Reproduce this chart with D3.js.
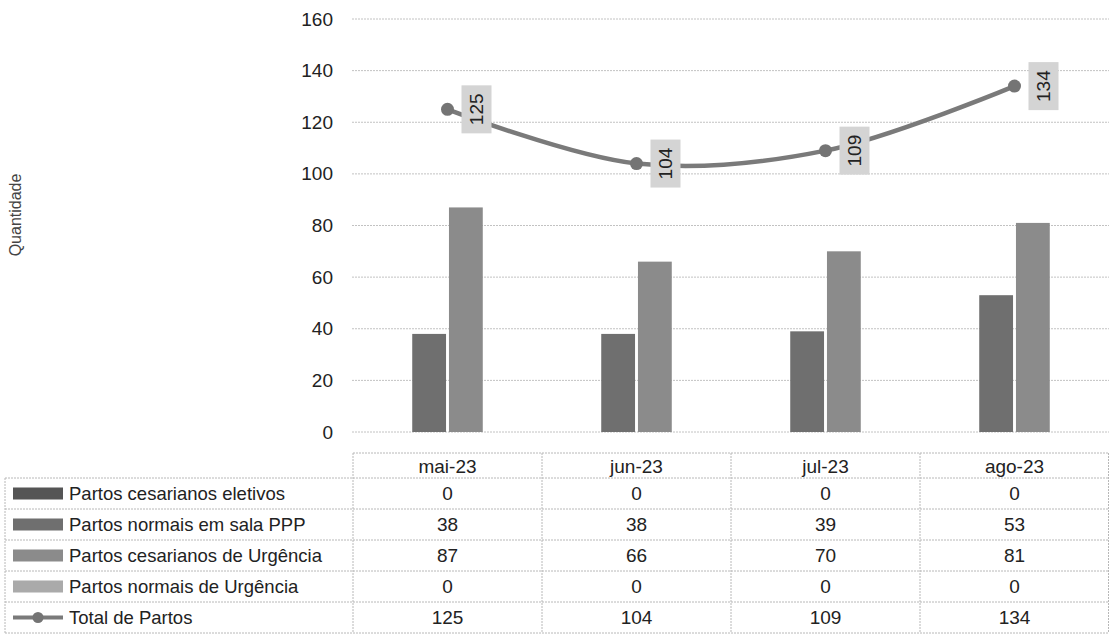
<!DOCTYPE html>
<html><head><meta charset="utf-8">
<script src="https://cdn.jsdelivr.net/npm/d3@7"></script>
<style>
html,body{margin:0;padding:0;background:#fff;}
svg{display:block;font-family:"Liberation Sans",Arial,sans-serif;}
</style></head>
<body>
<svg id="chart" width="1109" height="634"></svg>
<script>
const categories = ["mai-23","jun-23","jul-23","ago-23"];
const seriesNames = ["Partos cesarianos eletivos","Partos normais em sala PPP","Partos cesarianos de Urgência","Partos normais de Urgência"];
const cesElet = [0,0,0,0];
const normPPP = [38,38,39,53];
const cesUrg = [87,66,70,81];
const normUrg = [0,0,0,0];
const totals = [125,104,109,134];
const lineName = "Total de Partos";
const yTicks = [0,20,40,60,80,100,120,140,160];
const yTitle = "Quantidade";

const barSeries = [cesElet, normPPP, cesUrg, normUrg];
const colors = ["#555555","#6f6f6f","#8b8b8b","#aaaaaa"];
const lineColor = "#7a7a7a";

const svg = d3.select("#chart");
const x = d3.scaleBand().domain(categories).range([353,1109]).padding(0);
const y = d3.scaleLinear().domain([0,160]).range([432,19]);
const gw = 144;
const xs = d3.scaleBand().domain(d3.range(4)).range([(x.bandwidth()-gw)/2,(x.bandwidth()+gw)/2]).paddingInner(0.08);

// gridlines
svg.append("g").selectAll("line").data(yTicks).join("line")
  .attr("x1",352).attr("x2",1109)
  .attr("y1",d=>y(d)).attr("y2",d=>y(d))
  .attr("stroke","#c2c2c2").attr("stroke-width",1).attr("stroke-dasharray","2,1");

// y axis
const yAxis = d3.axisLeft(y).tickValues(yTicks).tickSize(0).tickPadding(0);
const ya = svg.append("g").attr("transform","translate(333,0)").call(yAxis);
ya.select(".domain").remove();
ya.selectAll("text").attr("font-size",19).attr("fill","#222").attr("font-family","Liberation Sans, Arial, sans-serif");

// y title
svg.append("text").attr("transform","translate(21,215) rotate(-90)")
  .attr("text-anchor","middle").attr("font-size",16).attr("fill","#444").text(yTitle);

// bars
barSeries.forEach((vals,si)=>{
  svg.append("g").selectAll("rect").data(vals).join("rect")
    .attr("x",(d,i)=>x(categories[i])+xs(si))
    .attr("width",xs.bandwidth())
    .attr("y",d=>y(d)).attr("height",d=>y(0)-y(d))
    .attr("fill",colors[si]);
});

// line
const pts = totals.map((v,i)=>[x(categories[i])+x.bandwidth()/2, y(v)]);
svg.append("path").attr("d",d3.line().curve(d3.curveCatmullRom.alpha(0.5))(pts))
  .attr("fill","none").attr("stroke",lineColor).attr("stroke-width",4.5);
svg.append("g").selectAll("circle").data(pts).join("circle")
  .attr("cx",d=>d[0]).attr("cy",d=>d[1]).attr("r",6.5).attr("fill","#747474");

// data labels
const lab = svg.append("g").selectAll("g").data(totals).join("g")
  .attr("transform",(d,i)=>`translate(${pts[i][0]+29},${pts[i][1]})`);
lab.append("rect").attr("x",-15).attr("y",-24).attr("width",30).attr("height",48).attr("fill","#d4d4d4");
lab.append("text").attr("transform","rotate(-90)").attr("text-anchor","middle")
  .attr("dy","0.36em").attr("font-size",19).attr("fill","#222").text(d=>d);

// data table
const tb = svg.append("g");
const headTop = 453, headBot = 478, rowH = 31;
const legLeft = 5, tabRight = 1108.5;
const gridStyle = s=>s.attr("stroke","#b8b8b8").attr("stroke-width",1).attr("stroke-dasharray","2,1").attr("fill","none");
tb.append("line").attr("x1",353).attr("x2",tabRight).attr("y1",headTop).attr("y2",headTop).call(gridStyle);
const rowYs = d3.range(6).map(i=>headBot+i*rowH);
rowYs.forEach(ry=>{
  tb.append("line").attr("x1",legLeft).attr("x2",tabRight).attr("y1",ry).attr("y2",ry).call(gridStyle);
});
tb.append("line").attr("x1",legLeft).attr("x2",legLeft).attr("y1",headBot).attr("y2",rowYs[5]).call(gridStyle);
categories.forEach(c=>{
  tb.append("line").attr("x1",x(c)).attr("x2",x(c)).attr("y1",headTop).attr("y2",rowYs[5]).call(gridStyle);
});
tb.append("line").attr("x1",tabRight).attr("x2",tabRight).attr("y1",headTop).attr("y2",rowYs[5]).call(gridStyle);
tb.selectAll("text.hd").data(categories).join("text").attr("class","hd")
  .attr("x",d=>x(d)+x.bandwidth()/2).attr("y",(headTop+headBot)/2+1).attr("dy","0.36em")
  .attr("text-anchor","middle").attr("font-size",19).attr("fill","#222").text(d=>d);
const rowsData = [cesElet,normPPP,cesUrg,normUrg,totals];
const rowNames = seriesNames.concat([lineName]);
rowsData.forEach((vals,ri)=>{
  const cy = rowYs[ri]+rowH/2;
  tb.append("text").attr("x",69).attr("y",cy).attr("dy","0.36em")
    .attr("font-size",18.5).attr("fill","#222").text(rowNames[ri]);
  tb.append("g").selectAll("text").data(vals).join("text")
    .attr("x",(d,i)=>x(categories[i])+x.bandwidth()/2).attr("y",cy).attr("dy","0.36em")
    .attr("text-anchor","middle").attr("font-size",19).attr("fill","#222").text(d=>d);
  if(ri<4){
    tb.append("rect").attr("x",13).attr("y",cy-6).attr("width",50).attr("height",12).attr("fill",colors[ri]);
  } else {
    tb.append("line").attr("x1",13).attr("x2",63).attr("y1",cy).attr("y2",cy).attr("stroke",lineColor).attr("stroke-width",4);
    tb.append("circle").attr("cx",38).attr("cy",cy).attr("r",5.5).attr("fill","#747474");
  }
});
</script>
</body></html>
